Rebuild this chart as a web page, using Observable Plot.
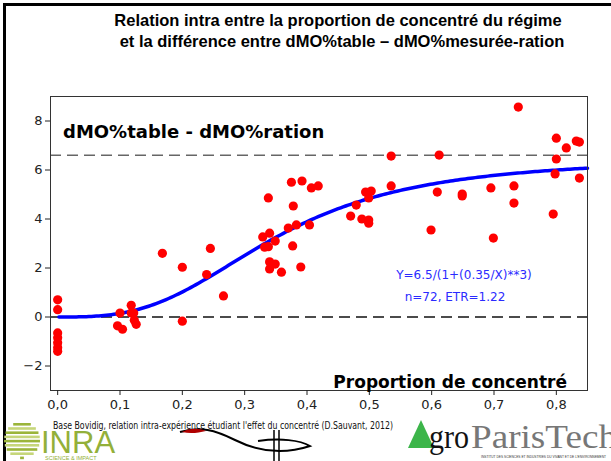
<!DOCTYPE html>
<html><head><meta charset="utf-8">
<script src="https://cdn.jsdelivr.net/npm/d3@7"></script>
<script src="https://cdn.jsdelivr.net/npm/@observablehq/plot@0.6"></script>
<style>
body{margin:0;background:#fff;}
#chart{position:relative;width:611px;height:461px;overflow:hidden;background:#fff}
</style>
</head><body><div id="chart"></div>
<script>
// Proportion de concentré (x) and dMO%table - dMO%ration (y)
const propConcentre = [
  0,0,0,0,0,0,0,
  0.1,0.096,0.104,0.118,0.118,0.122,0.123,0.126,
  0.168,0.2,0.2,0.239,0.245,0.266,
  0.329,0.332,0.338,0.34,0.338,0.349,0.34,0.34,0.349,0.359,0.37,0.375,0.378,0.377,0.383,0.392,0.39,0.404,0.407,0.418,
  0.47,0.479,0.488,0.494,0.499,0.499,0.499,0.503,0.535,0.535,
  0.599,0.609,0.612,0.649,0.649,
  0.695,0.699,0.732,0.732,0.739,0.795,0.798,0.8,0.8,0.816,0.832,0.837,0.837
];
const ecartDMO = [
  0.7,0.3,-0.65,-0.85,-1.05,-1.25,-1.4,
  0.16,-0.36,-0.5,0.48,0.16,0.16,-0.13,-0.3,
  2.6,2.03,-0.17,1.73,2.8,0.86,
  3.27,2.85,2.87,3.42,4.86,3.1,2.25,1.96,2.16,1.83,3.63,5.5,4.53,2.9,3.76,5.55,2.04,3.76,5.27,5.35,
  4.12,4.57,4.0,5.1,4.86,3.96,3.83,5.14,6.57,5.35,
  3.55,5.1,6.61,5.02,4.94,
  5.27,3.22,5.35,4.65,8.57,4.2,5.84,6.45,7.3,6.9,7.18,7.14,5.67
];
const xTicks = [0,0.1,0.2,0.3,0.4,0.5,0.6,0.7,0.8];
const yTicks = [-2,0,2,4,6,8];
const refTop = [6.6];
const refZero = [0];
// Fitted model shown on the chart: Y = 6.5/(1+(0.35/X)**3)
const modelA = 6.5, modelB = 0.35, modelC = 3;
const curveX = d3.range(0.002, 0.8501, 0.004);

const points = propConcentre.map((x, i) => ({x, y: ecartDMO[i]}));
const curve = curveX.map(x => ({x, y: modelA / (1 + Math.pow(modelB / x, modelC))}));

const plot = Plot.plot({
  width: 611, height: 461,
  marginTop: 96, marginLeft: 50, marginRight: 24, marginBottom: 71,
  style: {fontFamily: "DejaVu Sans, Verdana, sans-serif", fontSize: "13px", color: "#222", background: "transparent"},
  x: {domain: [-0.0115, 0.85], label: null},
  y: {domain: [-3, 9], label: null},
  marks: [
    Plot.ruleY(refTop, {stroke: "#666", strokeWidth: 1.6, strokeDasharray: "11,6"}),
    Plot.ruleY(refZero, {stroke: "#111", strokeWidth: 1.3, strokeDasharray: "11,6"}),
    Plot.line(curve, {x: "x", y: "y", stroke: "#0000ff", strokeWidth: 3.5}),
    Plot.dot(points, {x: "x", y: "y", r: 4.6, fill: "#ff0000"}),
    Plot.frame({stroke: "#333"}),
    Plot.axisX({ticks: xTicks, tickFormat: d => d.toFixed(1).replace(".", ","), tickSize: 5, tickPadding: 4, fontSize: 13, label: null}),
    Plot.axisY({ticks: yTicks, tickSize: 5, tickPadding: 3, fontSize: 13, label: null})
  ]
});
document.getElementById("chart").appendChild(plot);

const svg = d3.select(plot);
// slide border
svg.append("line").attr("x1", 3).attr("x2", 611).attr("y1", 4.5).attr("y2", 4.5).attr("stroke", "#000").attr("stroke-width", 3);
svg.append("line").attr("x1", 4.5).attr("x2", 4.5).attr("y1", 3).attr("y2", 461).attr("stroke", "#000").attr("stroke-width", 3);

// title
const title = svg.append("text").attr("font-family", "Liberation Sans, Arial, sans-serif").attr("font-weight", "bold").attr("font-size", 16.5).attr("text-anchor", "middle").attr("fill", "#000");
title.append("tspan").attr("x", 338).attr("y", 26).text("Relation intra entre la proportion de concentré du régime");
title.append("tspan").attr("x", 342).attr("y", 47).text("et la différence entre dMO%table – dMO%mesurée-ration");

// in-chart labels
svg.append("text").attr("x", 63).attr("y", 138).attr("text-anchor", "start").attr("font-family", "DejaVu Sans, Verdana, sans-serif").attr("font-weight", "bold").attr("font-size", 18).attr("fill", "#000").text("dMO%table - dMO%ration");
svg.append("text").attr("x", 567).attr("y", 388).attr("text-anchor", "end").attr("font-family", "DejaVu Sans, Verdana, sans-serif").attr("font-weight", "bold").attr("font-size", 17).attr("fill", "#000").text("Proportion de concentré");
const eq = svg.append("text").attr("font-family", "DejaVu Sans, Verdana, sans-serif").attr("font-size", 12).attr("text-anchor", "middle").attr("fill", "#2b2bff");
eq.append("tspan").attr("x", 464).attr("y", 279).text("Y=6.5/(1+(0.35/X)**3)");
eq.append("tspan").attr("x", 455).attr("y", 301).text("n=72, ETR=1.22");

// source caption
svg.append("text").attr("x", 53).attr("y", 429).attr("text-anchor", "start").attr("font-family", "DejaVu Sans Condensed, Liberation Sans Narrow, sans-serif").attr("font-size", 11).attr("fill", "#111")
  .attr("textLength", 340).attr("lengthAdjust", "spacingAndGlyphs")
  .text("Base Bovidig, relation intra-expérience étudiant l'effet du concentré (D.Sauvant, 2012)");

// INRA logo
const g1 = svg.append("g").attr("text-anchor", "start");
for (let i = 0; i < 9; i++) {
  const yy = 423 + i * 4.2;
  const dy = yy + 1.3 - 440;
  const half = Math.sqrt(Math.max(0, 18 * 18 - dy * dy));
  g1.append("rect").attr("x", 22 - half).attr("y", yy).attr("width", 2 * half).attr("height", 2.6).attr("fill", i % 2 ? "#c6d67a" : "#9bb53a");
}
g1.append("text").attr("x", 41).attr("y", 453).attr("font-family", "Liberation Sans Narrow, Liberation Sans, sans-serif").attr("font-size", 31).attr("fill", "#93b03a").text("INRA");
g1.append("text").attr("x", 45).attr("y", 460).attr("font-family", "Liberation Sans, sans-serif").attr("font-size", 5.5).attr("fill", "#93b03a").text("SCIENCE & IMPACT");

// middle logo (swoosh)
const g2 = svg.append("g");
g2.append("path").attr("d", "M180,432 C200,426 215,430 235,440 C255,450 280,456 310,446 C300,440 280,438 258,441").attr("fill", "none").attr("stroke", "#000").attr("stroke-width", 2);
g2.append("path").attr("d", "M182,432 C190,428 198,428 206,431 C198,433 190,434 182,432 Z").attr("fill", "#b00000");
g2.append("line").attr("x1", 274).attr("x2", 274).attr("y1", 430).attr("y2", 461).attr("stroke", "#000").attr("stroke-width", 1.5);
g2.append("line").attr("x1", 279).attr("x2", 279).attr("y1", 430).attr("y2", 461).attr("stroke", "#000").attr("stroke-width", 1.5);

// AgroParisTech logo
const g3 = svg.append("g").attr("text-anchor", "start");
g3.append("polygon").attr("points", "408,448 421,420 434,448").attr("fill", "#3cb54a");
g3.append("text").attr("x", 429).attr("y", 448).attr("font-family", "Liberation Serif, serif").attr("font-size", 34).attr("fill", "#111")
  .attr("textLength", 40).attr("lengthAdjust", "spacingAndGlyphs").text("gro");
g3.append("text").attr("x", 471).attr("y", 448).attr("font-family", "Liberation Serif, serif").attr("font-size", 34).attr("fill", "#777")
  .attr("textLength", 146).attr("lengthAdjust", "spacingAndGlyphs").text("ParisTech");
g3.append("text").attr("x", 481).attr("y", 458).attr("font-family", "Liberation Sans, sans-serif").attr("font-size", 3.5).attr("fill", "#333")
  .attr("textLength", 125).attr("lengthAdjust", "spacingAndGlyphs").text("INSTITUT DES SCIENCES ET INDUSTRIES DU VIVANT ET DE L'ENVIRONNEMENT");
</script>
</body></html>
